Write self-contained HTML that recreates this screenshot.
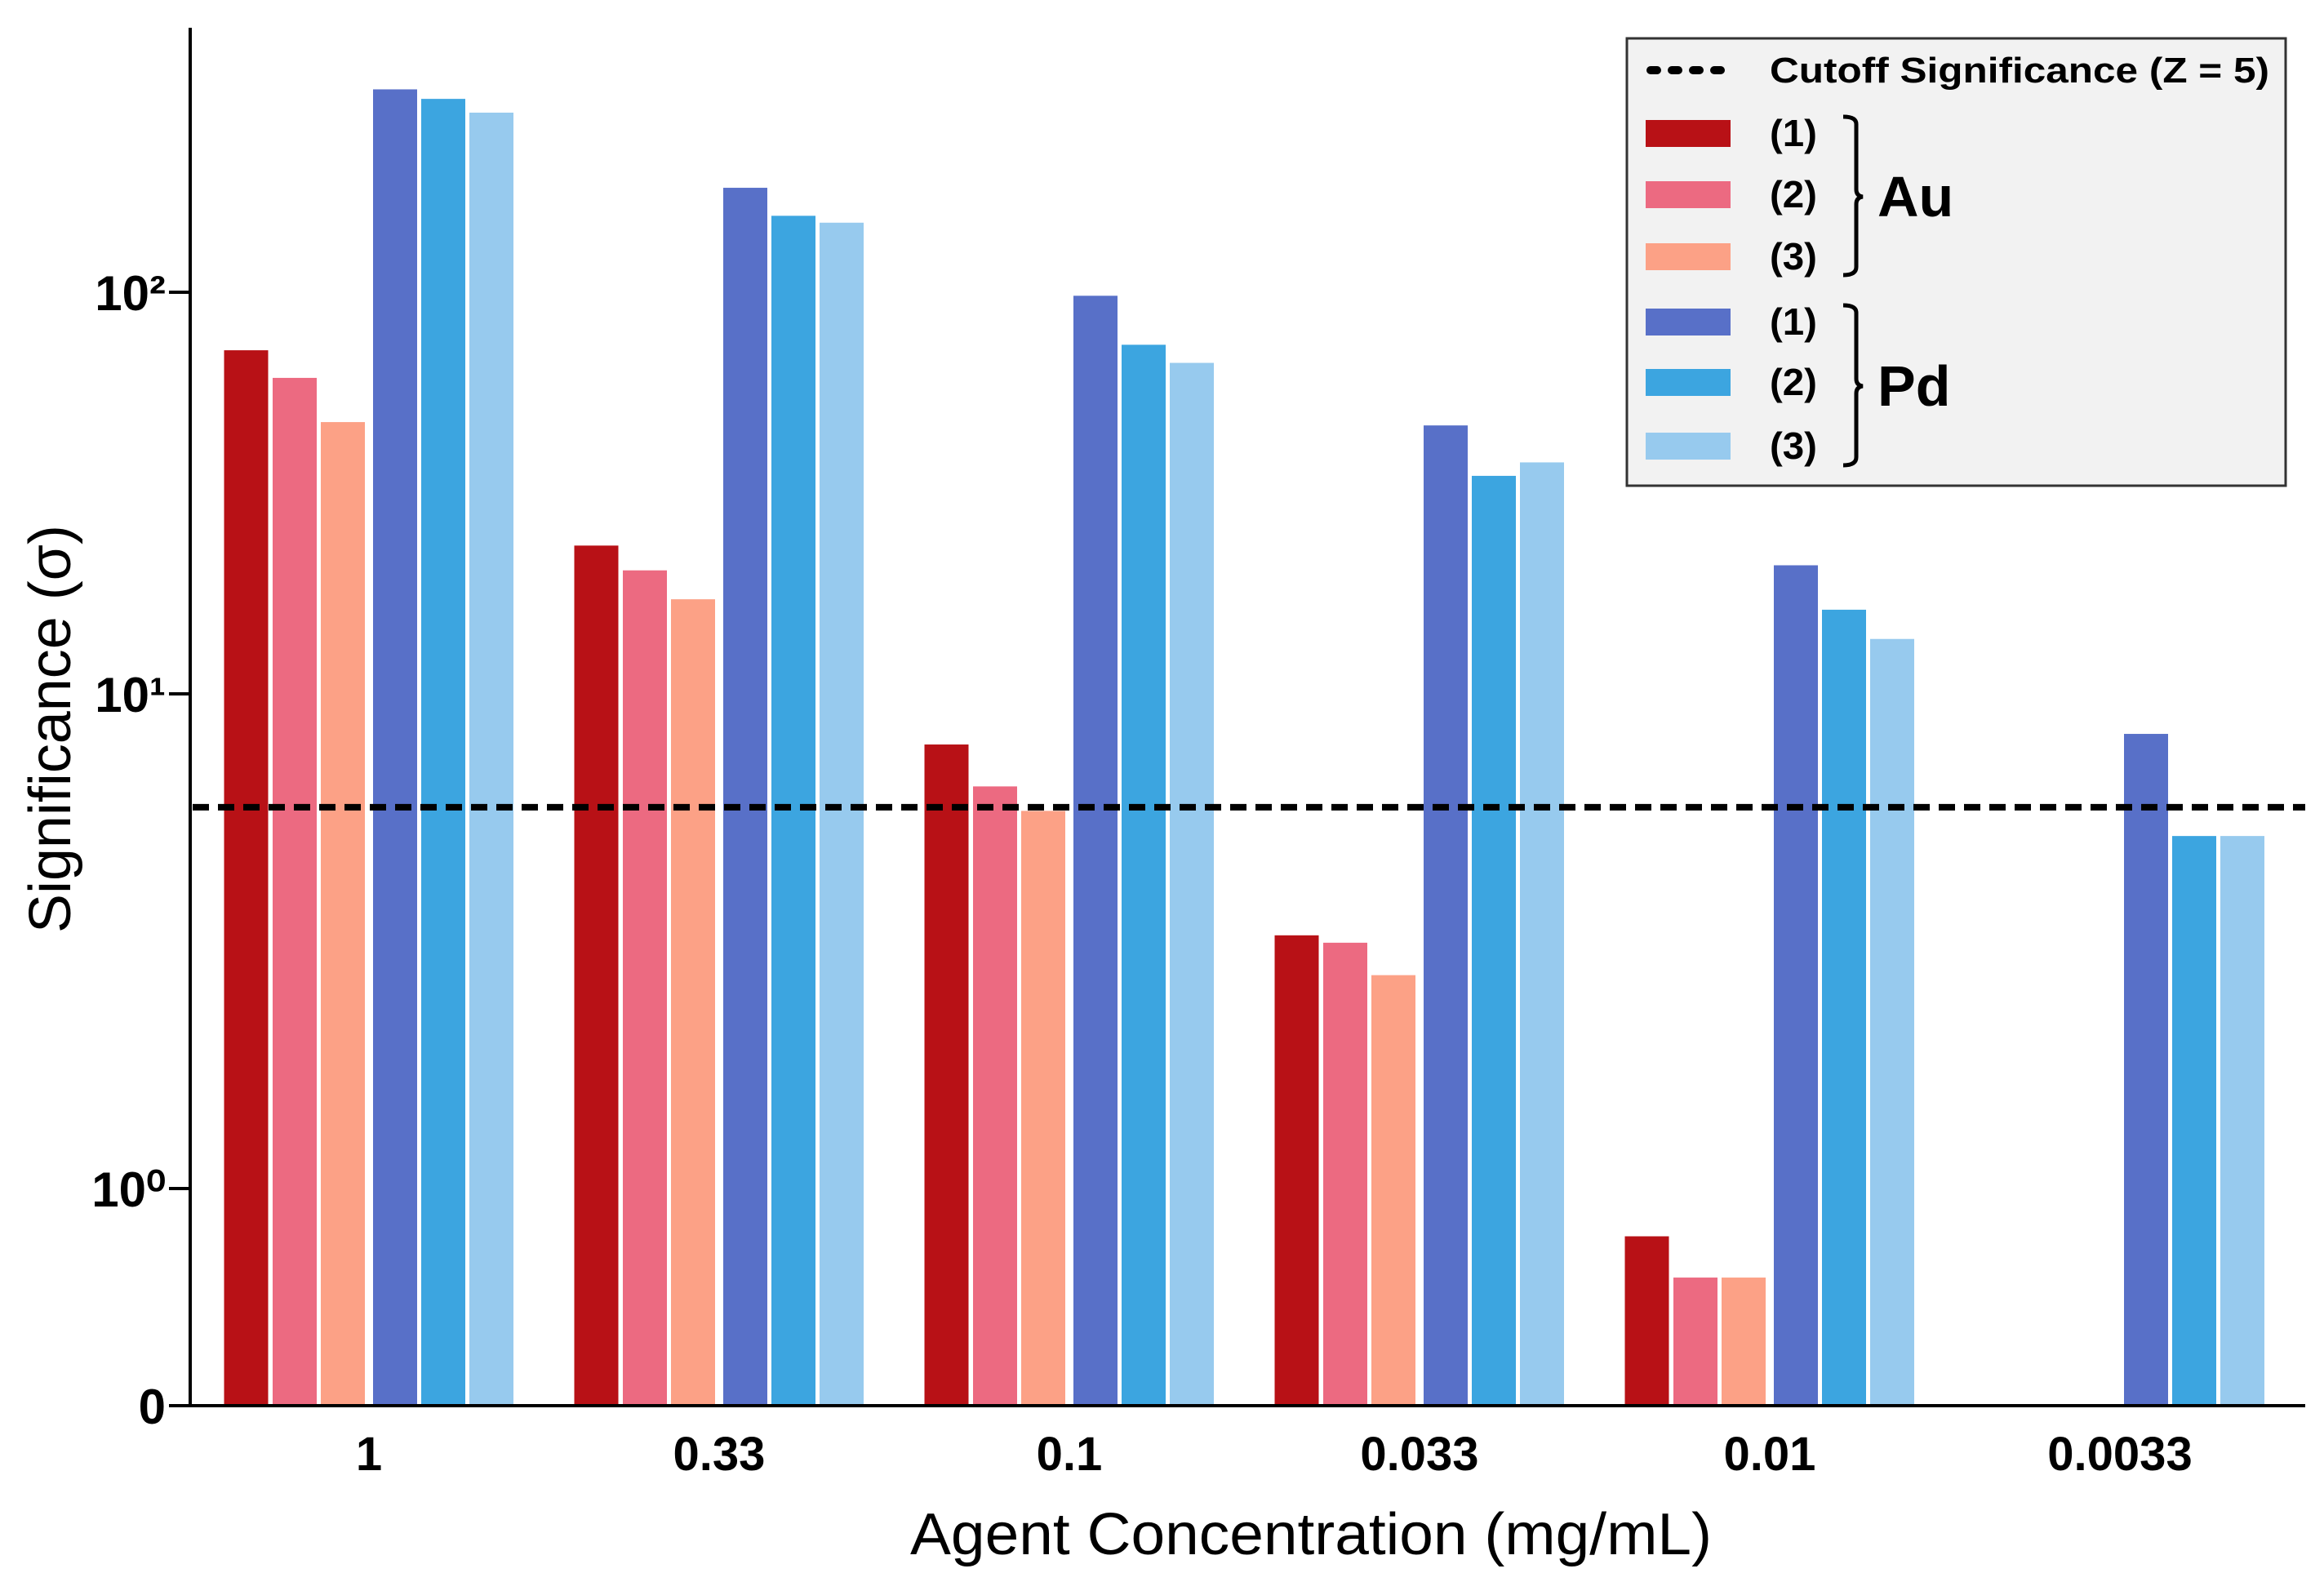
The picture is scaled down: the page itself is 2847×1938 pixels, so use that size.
<!DOCTYPE html>
<html><head><meta charset="utf-8"><style>
html,body{margin:0;padding:0;background:#fff}
svg{display:block}
text{font-family:"Liberation Sans",Arial,sans-serif;fill:#000}
</style></head><body>
<svg id="chart" width="2847" height="1938" viewBox="0 0 2847 1938" xmlns="http://www.w3.org/2000/svg">
<rect x="0" y="0" width="2847" height="1938" fill="#fff"/>
<g id="bars"></g>
<g id="axes"></g>
<g id="legend">
  <rect x="1993" y="47" width="807" height="548" fill="#f2f2f2" stroke="#333" stroke-width="3"/>
  <line x1="2022" y1="86" x2="2116" y2="86" stroke="#000" stroke-width="10" stroke-linecap="round" stroke-dasharray="8 18"/>
  <text x="2168" y="101" font-size="44" font-weight="bold" textLength="612" lengthAdjust="spacingAndGlyphs">Cutoff Significance (Z = 5)</text>
  <rect x="2016" y="147" width="104" height="33" fill="#b81116"/>
  <rect x="2016" y="222" width="104" height="33" fill="#ec6a81"/>
  <rect x="2016" y="298" width="104" height="33" fill="#fca186"/>
  <rect x="2016" y="378" width="104" height="33" fill="#5870c8"/>
  <rect x="2016" y="452" width="104" height="33" fill="#3ca5e0"/>
  <rect x="2016" y="530" width="104" height="33" fill="#97caee"/>
  <g font-size="46" font-weight="bold">
  <text x="2168" y="179" textLength="58" lengthAdjust="spacingAndGlyphs">(1)</text>
  <text x="2168" y="254" textLength="58" lengthAdjust="spacingAndGlyphs">(2)</text>
  <text x="2168" y="330" textLength="58" lengthAdjust="spacingAndGlyphs">(3)</text>
  <text x="2168" y="410" textLength="58" lengthAdjust="spacingAndGlyphs">(1)</text>
  <text x="2168" y="484" textLength="58" lengthAdjust="spacingAndGlyphs">(2)</text>
  <text x="2168" y="562" textLength="58" lengthAdjust="spacingAndGlyphs">(3)</text>
  </g>
  <path d="M2258 143 Q2274 143 2274 152 L2274 232 Q2274 240 2282 241 Q2274 242 2274 250 L2274 327 Q2274 337 2258 337" fill="none" stroke="#000" stroke-width="5"/>
  <path d="M2258 374 Q2274 374 2274 383 L2274 464 Q2274 472 2282 473 Q2274 474 2274 482 L2274 560 Q2274 570 2258 570" fill="none" stroke="#000" stroke-width="5"/>
  <text x="2300" y="265" font-size="70" font-weight="bold">Au</text>
  <text x="2300" y="497" font-size="70" font-weight="bold">Pd</text>
</g>
</svg>
<script>
const categories = ["1","0.33","0.1","0.033","0.01","0.0033"];
const au1 = [71.7, 23.4, 7.9, 3.25, 0.78, 0];
const au2 = [61.2, 20.3, 6.5, 3.14, 0.59, 0];
const au3 = [47.5, 17.2, 5.8, 2.7, 0.59, 0];
const pd1 = [320, 182, 98, 46.6, 20.9, 8.3];
const pd2 = [303, 155, 74, 34.9, 16.2, 5.16];
const pd3 = [280, 149, 66.7, 37.7, 13.7, 5.16];
const cutoff = [5.9];
const yTickValues = [0, 1, 10, 100];
const yTickLabels = ["0", "10⁰", "10¹", "10²"];

const NS = "http://www.w3.org/2000/svg";
function yScale(v){
  if (v <= 0) return 1722;
  if (v <= 1) return 1722 - v*266;
  if (v <= 10) return 1456 - Math.log10(v)*606;
  return 850 - (Math.log10(v)-1)*492;
}
function groupCenter(i){ return 452 + i*429; }
const barOffsets = [-177.5, -118, -59, 5, 64, 123];
const barW = 54;
const series = [au1, au2, au3, pd1, pd2, pd3];
const seriesNames = ["au-1","au-2","au-3","pd-1","pd-2","pd-3"];
const colors = ["#b81116","#ec6a81","#fca186","#5870c8","#3ca5e0","#97caee"];

function mk(tag, attrs, parent){
  const e = document.createElementNS(NS, tag);
  for (const k in attrs) e.setAttribute(k, attrs[k]);
  parent.appendChild(e);
  return e;
}
const barsG = document.getElementById('bars');
const axesG = document.getElementById('axes');
categories.forEach((c, i) => {
  series.forEach((s, j) => {
    const v = s[i];
    if (!(v > 0)) return;
    const y = yScale(v);
    const r = mk('rect', {x: groupCenter(i)+barOffsets[j], y: y, width: barW, height: 1722 - y, fill: colors[j]}, barsG);
    
    
  });
  const t = mk('text', {x: groupCenter(i), y: 1801, 'font-size': 58, 'font-weight': 'bold', 'text-anchor': 'middle'}, axesG);
  t.textContent = c;
  
  
});
const cl = mk('line', {x1: 236, x2: 2824, y1: yScale(cutoff[0]), y2: yScale(cutoff[0]), stroke: '#000', 'stroke-width': 8, 'stroke-dasharray': '20 11'}, axesG);


const ya = mk('line', {x1: 233, x2: 233, y1: 34, y2: 1724, stroke: '#000', 'stroke-width': 4}, axesG);


const xa = mk('line', {x1: 207, x2: 2824, y1: 1722, y2: 1722, stroke: '#000', 'stroke-width': 4}, axesG);


yTickValues.forEach((v, i) => {
  const y = yScale(v);
  const tk = mk('line', {x1: 207, x2: 233, y1: y, y2: y, stroke: '#000', 'stroke-width': 4}, axesG);
  
  
  const t = mk('text', {x: 203, y: y + 22, 'font-size': 60, 'font-weight': 'bold', 'text-anchor': 'end'}, axesG);
  t.textContent = yTickLabels[i];
  
  
});
const xt = mk('text', {x: 1115, y: 1904, 'font-size': 72, textLength: 982, lengthAdjust: 'spacingAndGlyphs'}, axesG);
xt.textContent = 'Agent Concentration (mg/mL)';


const yt = mk('text', {x: 0, y: 0, 'font-size': 72, textLength: 500, lengthAdjust: 'spacingAndGlyphs', 'text-anchor': 'middle', transform: 'translate(86,893) rotate(-90)'}, axesG);
yt.textContent = 'Significance (σ)';


</script>
</body></html>
